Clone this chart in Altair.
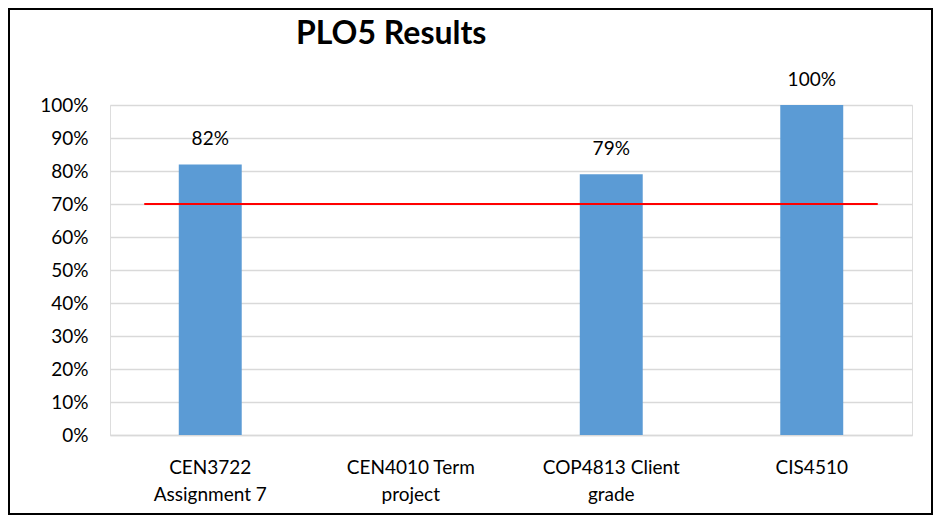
import altair as alt
import pandas as pd

# ---- data ----
categories = ["CEN3722\nAssignment 7", "CEN4010 Term\nproject", "COP4813 Client\ngrade", "CIS4510"]
scores = [0.82, None, 0.79, 1.00]
target_value = 0.70
y_ticks = [0.0, 0.1, 0.2, 0.3, 0.4, 0.5, 0.6, 0.7, 0.8, 0.9, 1.0]

bars_df = pd.DataFrame({"course": categories, "score": scores})
target_df = pd.DataFrame({"start": [categories[0]], "end": [categories[-1]], "target": [target_value]})
frame_df = pd.DataFrame({"frame": [1]})

FONT = "Lato"
FS = 19
W, H = 802, 330
PAD = {"left": 102, "top": 97, "right": 21, "bottom": 80}

x_scale = alt.Scale(domain=categories, paddingInner=0.686, paddingOuter=0.343)
y_scale = alt.Scale(domain=[0, 1], nice=False)

x_enc = alt.X(
    "course:N",
    scale=x_scale,
    sort=categories,
    axis=alt.Axis(
        title=None,
        labelAngle=0,
        labelExpr="split(datum.label, '\\n')",
        labelFont=FONT,
        labelFontSize=FS,
        labelColor="#000000",
        labelLineHeight=27,
        labelPadding=23,
        labelBaseline="top",
        labelOverlap=False,
        ticks=False,
        domain=True,
        domainColor="#d9d9d9",
        domainWidth=1.5,
        grid=False,
    ),
)

y_enc = alt.Y(
    "score:Q",
    scale=y_scale,
    axis=alt.Axis(
        title=None,
        values=y_ticks,
        tickCount=len(y_ticks),
        format=".0%",
        labelFont=FONT,
        labelFontSize=FS,
        labelColor="#000000",
        labelPadding=22,
        labelOverlap=False,
        labelFlush=False,
        ticks=False,
        domain=False,
        grid=True,
        gridColor="#d9d9d9",
        gridWidth=1.5,
    ),
)

base = alt.Chart(bars_df)

bars = base.transform_filter("isValid(datum.score)").mark_bar(color="#5B9BD5").encode(x=x_enc, y=y_enc)

labels = base.transform_filter("isValid(datum.score)").mark_text(
    font=FONT, fontSize=FS, color="#000000", baseline="alphabetic", dy=-19
).encode(
    x=alt.X("course:N", sort=categories),
    y="score:Q",
    text=alt.Text("score:Q", format=".0%"),
)

target_line = alt.Chart(target_df).mark_rule(
    color="#FF0000", strokeWidth=2, xOffset=-66, x2Offset=66
).encode(
    x=alt.X("start:N", sort=categories),
    x2="end:N",
    y="target:Q",
)

frame = alt.Chart(frame_df).mark_rect(
    filled=False, stroke="#000000", strokeWidth=2
).encode(
    x=alt.value(-101), x2=alt.value(W + PAD["right"] - 1),
    y=alt.value(-PAD["top"] + 1), y2=alt.value(H + PAD["bottom"] - 1),
)

chart = alt.layer(bars, labels, target_line, frame).properties(
    width=W,
    height=H,
    padding=PAD,
    autosize=alt.AutoSizeParams(type="none"),
    title=alt.TitleParams(
        "PLO5 Results",
        anchor="start",
        frame="group",
        dx=186,
        offset=-68,
        baseline="alphabetic",
        font=FONT,
        fontSize=32,
        fontWeight="bold",
        color="#000000",
    ),
).configure_view(stroke=None).configure(background="#ffffff")

chart.save("out.html", embed_options={"renderer": "svg", "actions": False})
